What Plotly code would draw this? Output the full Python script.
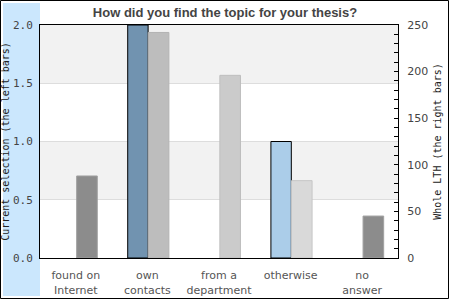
import plotly.graph_objects as go

categories = ["found on<br>Internet", "own<br>contacts", "from a<br>department", "otherwise", "no<br>answer"]
current_selection = [None, 2.0, None, 1.0, None]
whole_lth = [88, 242, 196, 83, 45]

left_colors = ["#7193b0", "#7193b0", "#7193b0", "#abcde9", "#abcde9"]
right_colors = ["#8c8c8c", "#bdbdbd", "#cbcbcb", "#d9d9d9", "#8c8c8c"]
right_lines = ["#a0a0a0", "#b2b2b2", "#bebebe", "#c6c6c6", "#a0a0a0"]

W, H = 450, 300
L, R, T, B = 40, 52, 25, 42
pw, ph = W - L - R, H - T - B


def px_x(x):
    return (x - L) / pw


def px_y(y):
    return (H - B - y) / ph


fig = go.Figure()
fig.add_trace(go.Bar(
    x=categories, y=current_selection, yaxis="y",
    offset=-0.275, width=0.285,
    marker=dict(color=left_colors, line=dict(color="black", width=1)),
    showlegend=False,
))
fig.add_trace(go.Bar(
    x=categories, y=whole_lth, yaxis="y2",
    offset=0.012, width=0.288,
    marker=dict(color=right_colors, line=dict(color=right_lines, width=1)),
    showlegend=False,
))

shapes = [
    # left blue panel
    dict(type="rect", xref="paper", yref="paper",
         x0=px_x(3), x1=px_x(40), y0=px_y(296), y1=px_y(3),
         fillcolor="#cbe7fd", line=dict(width=0), layer="below"),
    # stripes
    dict(type="rect", xref="paper", yref="y", x0=0, x1=1, y0=1.5, y1=2.0,
         fillcolor="#f2f2f2", line=dict(width=0), layer="below"),
    dict(type="rect", xref="paper", yref="y", x0=0, x1=1, y0=0.5, y1=1.0,
         fillcolor="#f2f2f2", line=dict(width=0), layer="below"),
    # outer border
    dict(type="rect", xref="paper", yref="paper",
         x0=px_x(0.5), x1=px_x(448.5), y0=px_y(298.5), y1=px_y(0.5),
         line=dict(color="black", width=1), fillcolor="rgba(0,0,0,0)", layer="above"),
]

fig.update_layout(
    width=W, height=H,
    margin=dict(l=L, r=R, t=T, b=B, pad=0),
    paper_bgcolor="white", plot_bgcolor="white",
    barmode="overlay",
    shapes=shapes,
    title=dict(text="How did you find the topic for your thesis?",
               x=0.5, xref="container", xanchor="center",
               y=1 - 12 / H, yref="container", yanchor="middle",
               font=dict(family="Liberation Sans", size=13, color="#444444", weight="bold")),
    xaxis=dict(type="category", range=[-0.5, 4.5], showline=True, linecolor="black",
               linewidth=1, mirror=True, ticks="", showgrid=False, automargin=False,
               ticklabelstandoff=7,
               tickfont=dict(family="DejaVu Sans", size=11, color="#555555")),
    yaxis=dict(range=[0, 2], dtick=0.5, tickformat=".1f", showline=True, linecolor="black",
               linewidth=1, ticks="", showgrid=True, gridcolor="#dddddd", zeroline=False,
               ticklabelstandoff=4, automargin=False,
               tickfont=dict(family="DejaVu Sans Mono", size=11, color="#444444"),
               title=dict(text="Current selection (the left bars)", standoff=1,
                          font=dict(family="DejaVu Sans Mono", size=10, color="#222222"))),
    yaxis2=dict(range=[0, 250], dtick=50, overlaying="y", side="right", showline=True,
                linecolor="black", linewidth=1, ticks="inside", ticklen=4, tickcolor="black",
                minor=dict(dtick=10, ticks="inside", ticklen=4, tickcolor="black"),
                showgrid=False, zeroline=False, ticklabelstandoff=6, automargin=False,
                tickfont=dict(family="DejaVu Sans", size=11, color="#444444"),
                title=dict(text="Whole LTH (the right bars)", standoff=6,
                           font=dict(family="DejaVu Sans Mono", size=10, color="#222222"))),
)

fig.write_html("out.html")
